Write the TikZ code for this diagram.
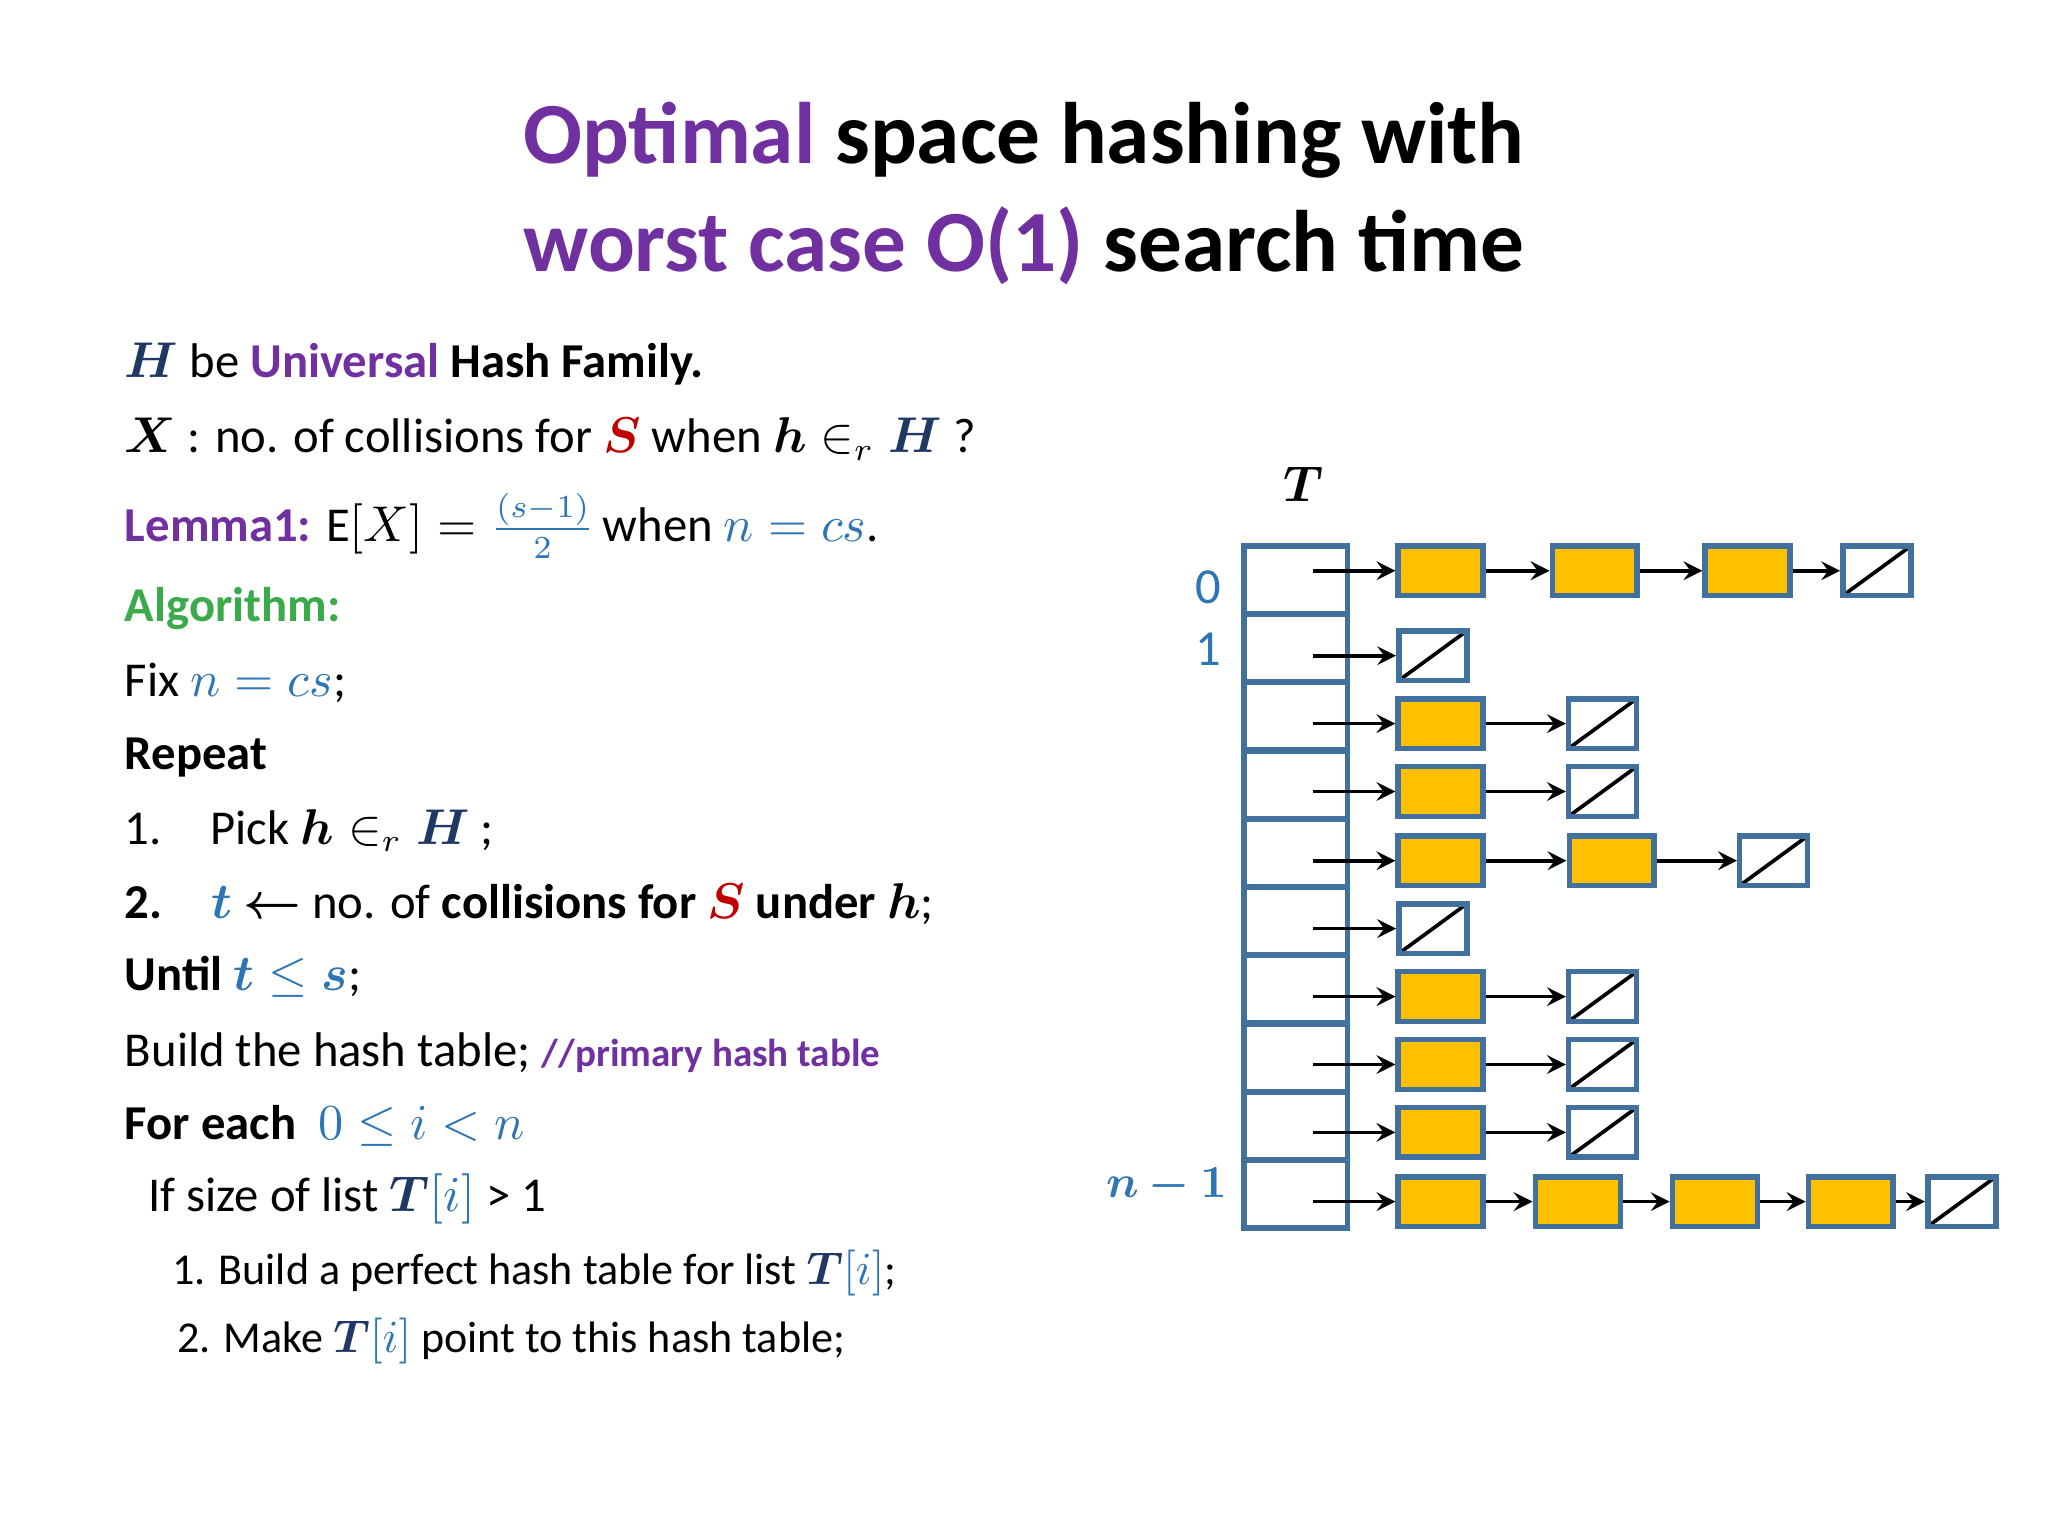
\documentclass[tikz,border=0pt]{standalone}
\usepackage{amsmath,bm}
\usepackage{fontspec}
\setmainfont{Carlito}
\definecolor{pur}{HTML}{7030A0}
\definecolor{navy}{HTML}{1F3864}
\definecolor{rd}{HTML}{C00000}
\definecolor{bl}{HTML}{2E75B6}
\definecolor{gr}{HTML}{3BAA4A}
\definecolor{yel}{HTML}{FFC000}
\definecolor{bord}{HTML}{41719C}
\begin{document}
\begin{tikzpicture}[x=0.01cm,y=-0.01cm,
  txt/.style={anchor=west,inner sep=0pt,font=\fontsize{10.6}{12}\selectfont},
  ybox/.style={draw=bord,line width=1.2pt,fill=yel,minimum width=0.65cm,minimum height=0.38cm,inner sep=0pt},
  nbox/.style={draw=bord,line width=1.2pt,fill=white,minimum width=0.52cm,minimum height=0.38cm,inner sep=0pt,
    path picture={\draw[black,line width=0.8pt] (path picture bounding box.south west)--(path picture bounding box.north east);}},
  arr/.style={->,>=stealth,line width=0.8pt},
  cell/.style={draw=bord,line width=1.2pt,minimum width=0.79cm,minimum height=0.522cm,inner sep=0pt}]
\useasboundingbox (0,0) rectangle (1568,1176);
% title
\node[font=\fontsize{19}{23.5}\selectfont\bfseries,align=center] (title) at (784,148)
 {\textcolor{pur}{Optimal} space hashing with\\ \textcolor{pur}{worst case O(1)} search time};
% left text
\node[txt] (l1) at (95,279) {$\color{navy}\bm{H}$ be \textcolor{pur}{\bfseries Universal} \textbf{Hash Family.}};
\node[txt] (l2) at (95,336) {$\bm{X}$ : no. of collisions for $\color{rd}\bm{S}$ when $\bm{h}\in_r \color{navy}\bm{H}$ ?};
\node[txt] (l3) at (95,403) {\textcolor{pur}{\bfseries Lemma1:} $\mathrm{E}[X]=\color{bl}\frac{(s-1)}{2}$\,when $\color{bl}n=cs$.};
\node[txt] (l4) at (95,466) {\textcolor{gr}{\bfseries Algorithm:}};
\node[txt] (l5) at (95,523) {Fix $\color{bl}n=cs$;};
\node[txt] (l6) at (95,580) {\textbf{Repeat}};
\node[txt] (l7) at (95,636) {1.\quad Pick $\bm{h}\in_r \color{navy}\bm{H}$ ;};
\node[txt] (l8) at (95,692) {\textbf{2.}\quad $\color{bl}\bm{t}$ $\bm{\leftarrow}$ no. of \textbf{collisions for} $\color{rd}\bm{S}$ \textbf{under} $\bm{h}$;};
\node[txt] (l9) at (95,748) {\textbf{Until} $\color{bl}\bm{t}\le\bm{s}$;};
\node[txt] (l10) at (95,806) {Build the hash table; \textcolor{pur}{\bfseries\fontsize{8.5}{10}\selectfont //primary hash table}};
\node[txt] (l11) at (95,862) {\textbf{For each}\ \ $\color{bl}0\le i<n$};
\node[txt] (l12) at (113,918) {If size of list $\color{navy}\bm{T}\color{bl}[i]$ > 1};
\node[txt,font=\fontsize{9.6}{11}\selectfont] (l13) at (131,975) {1. Build a perfect hash table for list $\color{navy}\bm{T}\color{bl}[i]$;};
\node[txt,font=\fontsize{9.6}{11}\selectfont] (l14) at (135,1027) {2. Make $\color{navy}\bm{T}\color{bl}[i]$ point to this hash table;};
% table
\node[font=\fontsize{11}{13}\selectfont] (Tl) at (998,371) {$\bm{T}$};
\foreach \i/\y in {0/444,1/496,2/548,3/601,4/653,5/705,6/757,7/810,8/862,9/914}{
  \node[cell] (c\i) at (992,\y) {};
  \coordinate (s\i) at (1005,\y);
}
\node[font=\fontsize{11}{13}\selectfont,text=bl] (lab0) at (925,450) {0};
\node[font=\fontsize{11}{13}\selectfont,text=bl] (lab1) at (925,497) {1};
\node[font=\fontsize{10}{12}\selectfont,text=bl] (lab9) at (893,908) {$\bm{n-1}$};
% row 0
\node[ybox] (a0) at (1103,437) {}; \node[ybox] (b0) at (1221,437) {}; \node[ybox] (d0) at (1338,437) {}; \node[nbox] (e0) at (1437,437) {};
\draw[arr] (s0|-a0)--(a0); \draw[arr] (a0)--(b0); \draw[arr] (b0)--(d0); \draw[arr] (d0)--(e0);
% row 1
\node[nbox] (a1) at (1097,502) {}; \draw[arr] (s1|-a1)--(a1);
\foreach \r/\y in {2/554,3/606,6/763,7/815,8/867}{
  \node[ybox] (a\r) at (1103,\y) {}; \node[nbox] (e\r) at (1227,\y) {};
  \draw[arr] (s\r|-a\r)--(a\r); \draw[arr] (a\r)--(e\r);
}
% row 4
\node[ybox] (a4) at (1103,659) {}; \node[ybox] (b4) at (1234,659) {}; \node[nbox] (e4) at (1358,659) {};
\draw[arr] (s4|-a4)--(a4); \draw[arr] (a4)--(b4); \draw[arr] (b4)--(e4);
% row 5
\node[nbox] (a5) at (1097,711) {}; \draw[arr] (s5|-a5)--(a5);
% row 9
\node[ybox] (a9) at (1103,920) {}; \node[ybox] (b9) at (1208,920) {}; \node[ybox] (d9) at (1313,920) {}; \node[ybox] (f9) at (1417,920) {}; \node[nbox] (e9) at (1502,920) {};
\draw[arr] (s9|-a9)--(a9); \draw[arr] (a9)--(b9); \draw[arr] (b9)--(d9); \draw[arr] (d9)--(f9); \draw[arr] (f9)--(e9);
\end{tikzpicture}
\end{document}
